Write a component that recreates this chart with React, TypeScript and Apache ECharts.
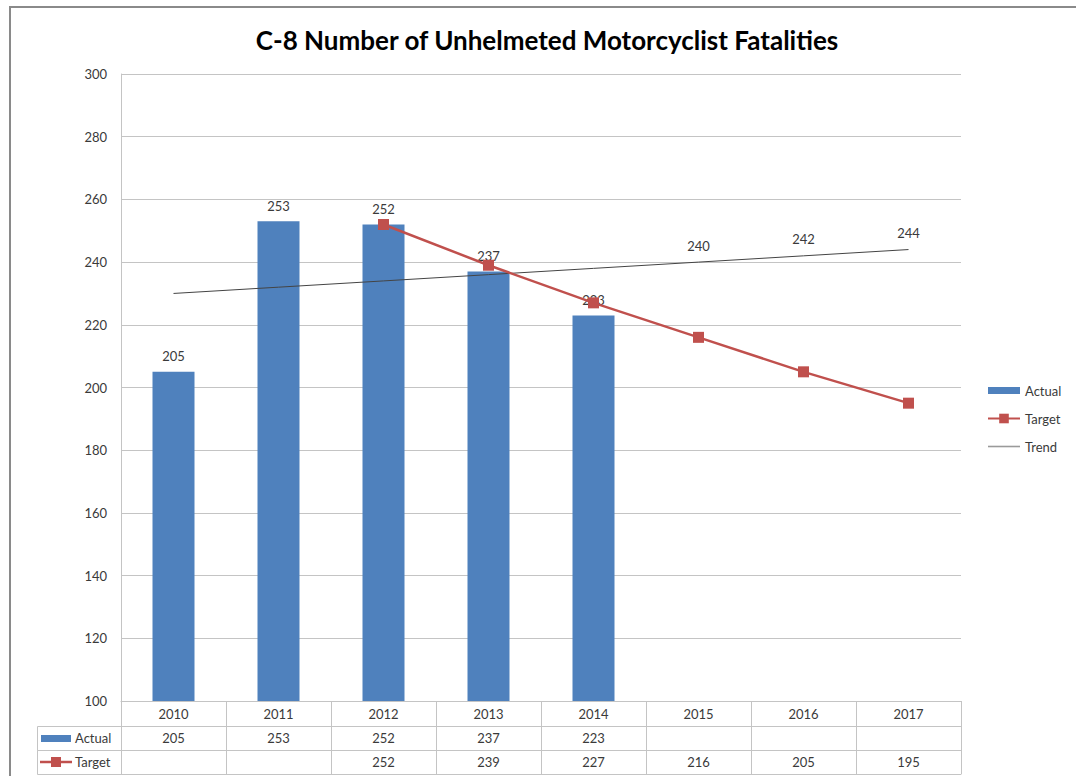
import React, { useEffect, useRef } from "react";
import * as echarts from "echarts";

const years = ["2010", "2011", "2012", "2013", "2014", "2015", "2016", "2017"];
const actual: (number | null)[] = [205, 253, 252, 237, 223, null, null, null];
const target: (number | null)[] = [null, null, 252, 239, 227, 216, 205, 195];
const trend: number[] = [230, 232, 234, 236, 238, 240, 242, 244];
const trendLabelFrom = 5;
const titleText = "C-8 Number of Unhelmeted Motorcyclist Fatalities";

const FONT = "Lato, 'Open Sans', sans-serif";
const BLUE = "#4F81BD";
const RED = "#C0504D";
const GRIDC = "#c4c4c4";
const TXT = "#3a3a3a";

export default function App() {
  const ref = useRef<HTMLDivElement>(null);
  useEffect(() => {
    if (!ref.current) return;
    const chart = echarts.init(ref.current, null, { renderer: "svg" });
    const cellFmt = (arr: (number | null)[]) => (_v: string, i: number) =>
      arr[i] == null ? "" : String(arr[i]);
    const tableAxis = (offset: number, fmt: any, ticks: boolean) => ({
      type: "category",
      data: years,
      position: "bottom",
      offset,
      axisLine: { show: true, lineStyle: { color: GRIDC, width: 1 } },
      axisTick: { show: ticks, length: 24, interval: 0, lineStyle: { color: GRIDC } },
      axisLabel: {
        show: !!fmt,
        interval: 0,
        formatter: fmt || undefined,
        color: TXT,
        fontSize: 13,
        fontFamily: FONT,
        margin: 5,
      },
      splitLine: { show: false },
    });
    chart.setOption({
      animation: false,
      textStyle: { fontFamily: FONT },
      title: {
        text: titleText,
        left: 542,
        textAlign: "center",
        top: 22,
        textStyle: { fontSize: 26, fontWeight: "bold", color: "#000", fontFamily: FONT },
      },
      legend: {
        orient: "vertical",
        left: 982,
        top: 379,
        itemGap: 15,
        itemWidth: 32,
        itemHeight: 12,
        itemTextGap: 3,
        textStyle: { fontSize: 13, color: TXT, fontFamily: FONT },
        data: [
          { name: "Actual", icon: "path://M0,0H32V7H0Z" },
          { name: "Target" },
          { name: "Trend", icon: "path://M0,0H32V1.6H0Z", itemStyle: { color: "#9a9a9a" } },
        ],
      },
      grid: { left: 121, right: 115, top: 74, bottom: 75, containLabel: false },
      xAxis: [
        {
          type: "category",
          data: years,
          position: "bottom",
          axisLine: { show: true, lineStyle: { color: GRIDC } },
          axisTick: { show: true, length: 25, interval: 0, lineStyle: { color: GRIDC } },
          axisLabel: { interval: 0, color: TXT, fontSize: 13, fontFamily: FONT, margin: 6 },
          splitLine: { show: false },
        },
        tableAxis(25, cellFmt(actual), true),
        tableAxis(49, cellFmt(target), true),
        tableAxis(73, null, false),
      ],
      yAxis: {
        type: "value",
        min: 100,
        max: 300,
        interval: 20,
        axisLine: { show: true, lineStyle: { color: GRIDC } },
        axisTick: { show: false },
        axisLabel: { color: TXT, fontSize: 13, fontFamily: FONT, margin: 14 },
        splitLine: { lineStyle: { color: GRIDC, width: 1 } },
      },
      graphic: [
        {
          type: "polyline",
          shape: { points: [[10, 776], [10, 7], [1076, 7]] },
          style: { stroke: "#8a8a8a", lineWidth: 2, fill: "none" },
          silent: true,
        },
        {
          type: "rect",
          shape: { x: 37.5, y: 726.5, width: 84, height: 24 },
          style: { stroke: GRIDC, fill: "none", lineWidth: 1 },
        },
        {
          type: "rect",
          shape: { x: 37.5, y: 750.5, width: 84, height: 24 },
          style: { stroke: GRIDC, fill: "none", lineWidth: 1 },
        },
        {
          type: "rect",
          shape: { x: 41, y: 735, width: 30, height: 7 },
          style: { fill: BLUE },
        },
        {
          type: "text",
          x: 75,
          y: 738,
          style: { text: "Actual", fontSize: 13, fill: TXT, fontFamily: FONT, verticalAlign: "middle" },
        },
        {
          type: "line",
          shape: { x1: 40, y1: 762, x2: 72, y2: 762 },
          style: { stroke: RED, lineWidth: 2.5 },
        },
        {
          type: "rect",
          shape: { x: 51, y: 757, width: 10, height: 10 },
          style: { fill: RED },
        },
        {
          type: "text",
          x: 75,
          y: 762,
          style: { text: "Target", fontSize: 13, fill: TXT, fontFamily: FONT, verticalAlign: "middle" },
        },
      ],
      series: [
        {
          name: "Actual",
          type: "bar",
          data: actual,
          barWidth: "40%",
          itemStyle: { color: BLUE },
          label: {
            show: true,
            position: "top",
            distance: 9,
            color: TXT,
            fontSize: 13,
            fontFamily: FONT,
          },
          z: 2,
        },
        {
          name: "Trend",
          type: "line",
          data: trend.map((v, i) => ({
            value: v,
            label: { show: i >= trendLabelFrom },
          })),
          symbol: "circle",
          symbolSize: 0.01,
          showSymbol: true,
          showAllSymbol: true,
          lineStyle: { color: "#444", width: 1 },
          itemStyle: { color: "#9a9a9a" },
          label: {
            show: false,
            position: "top",
            distance: 10,
            color: TXT,
            fontSize: 13,
            fontFamily: FONT,
          },
          z: 3,
        },
        {
          name: "Target",
          type: "line",
          data: target,
          symbol: "rect",
          symbolSize: 11,
          showAllSymbol: true,
          lineStyle: { color: RED, width: 2.5 },
          itemStyle: { color: RED },
          z: 4,
        },
      ],
    });
    return () => chart.dispose();
  }, []);
  return (
    <div
      ref={ref}
      style={{ position: "fixed", left: 0, top: 0, width: 1076, height: 776, background: "#fff" }}
    />
  );
}
